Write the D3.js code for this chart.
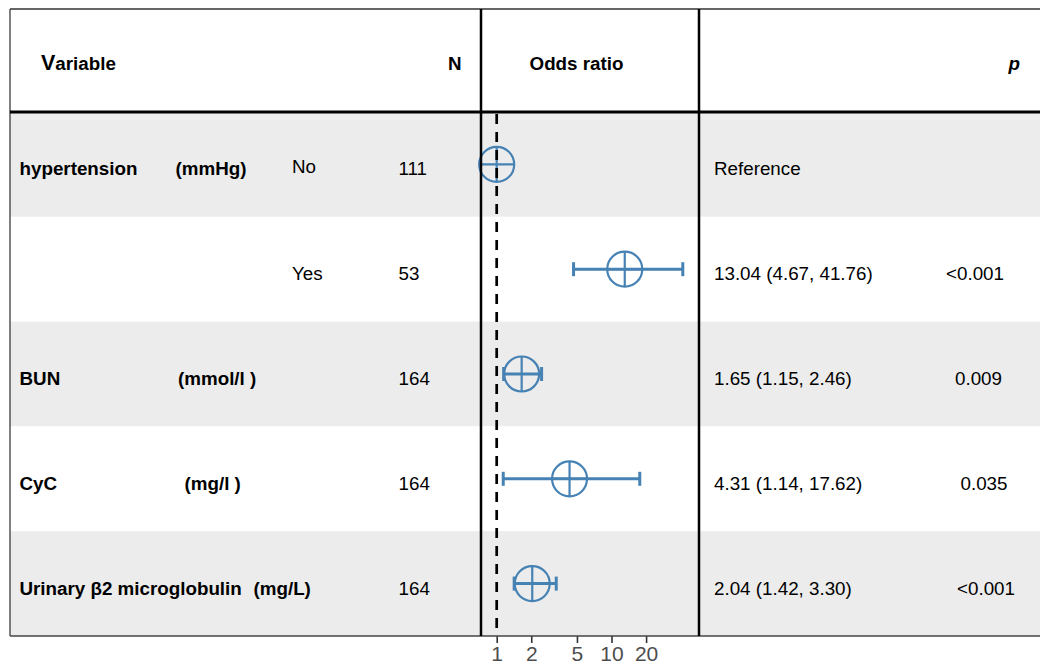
<!DOCTYPE html>
<html>
<head>
<meta charset="utf-8">
<script src="https://cdn.jsdelivr.net/npm/d3@7/dist/d3.min.js"></script>
<style>
  html, body { margin: 0; padding: 0; background: #fff; }
  svg { display: block; font-family: "Liberation Sans", Arial, Helvetica, sans-serif; }
</style>
</head>
<body>
<svg id="chart" width="1040" height="671"></svg>
<script>
// ---- data ----
const variables = ["hypertension", "", "BUN", "CyC", "Urinary \u03b22 microglobulin"];
const units = ["(mmHg)", "", "(mmol/l )", "(mg/l )", "(mg/L)"];
const levels = ["No", "Yes", "", "", ""];
const counts = ["111", "53", "164", "164", "164"];
const oddsRatio = [1, 13.04, 1.65, 4.31, 2.04];
const lowerCI = [null, 4.67, 1.15, 1.14, 1.42];
const upperCI = [null, 41.76, 2.46, 17.62, 3.30];
const ciText = ["Reference", "13.04 (4.67, 41.76)", "1.65 (1.15, 2.46)", "4.31 (1.14, 17.62)", "2.04 (1.42, 3.30)"];
const pText = ["", "<0.001", "0.009", "0.035", "<0.001"];
const tickValues = [1, 2, 5, 10, 20];
const xDomain = [0.73, 57.8];
const refValue = 1;

// ---- layout (kept apart from data) ----
const unitX = [175.5, 0, 178, 184.5, 253.5];
const pX = [0, 946, 955, 960.5, 957];
const W = 1040;
const leftX = 10, topY = 9, headBottom = 112, bottomY = 636;
const panelL = 481, panelR = 699;
const fs = 18.8;
const blue = "#4682B4";

const svg = d3.select("#chart");

const x = d3.scaleLog().domain(xDomain).range([panelL, panelR]);
const y = d3.scaleBand().domain(d3.range(variables.length)).range([headBottom, bottomY]);

// row bands
svg.append("g").selectAll("rect").data(d3.range(variables.length)).join("rect")
  .attr("x", leftX).attr("y", d => y(d))
  .attr("width", W - leftX).attr("height", y.bandwidth())
  .attr("fill", d => d % 2 === 0 ? "#ececec" : "#ffffff");

// header
const hdr = svg.append("g").attr("font-weight", "bold").attr("fill", "#000");
const vt = hdr.append("text").attr("x", 41).attr("y", 70).attr("font-size", fs);
vt.append("tspan").attr("font-size", 21.5).text("V");
vt.append("tspan").text("ariable");
hdr.append("text").attr("x", 461.5).attr("y", 70).attr("text-anchor", "end").attr("font-size", fs).text("N");
hdr.append("text").attr("x", 576.5).attr("y", 70).attr("text-anchor", "middle").attr("font-size", fs).text("Odds ratio");
hdr.append("text").attr("x", 1020).attr("y", 70).attr("text-anchor", "end").attr("font-size", fs)
  .attr("font-style", "italic").text("p");

// row text
const rowsG = svg.append("g").attr("font-size", fs).attr("fill", "#000");
const base = i => y(i) + y.bandwidth() / 2 + 11;
rowsG.selectAll("text.var").data(variables).join("text").attr("class", "var")
  .attr("x", 19.5).attr("y", (d, i) => base(i)).attr("font-weight", "bold").text(d => d);
rowsG.selectAll("text.unit").data(units).join("text").attr("class", "unit")
  .attr("x", (d, i) => unitX[i]).attr("y", (d, i) => base(i)).attr("font-weight", "bold").text(d => d);
rowsG.selectAll("text.lvl").data(levels).join("text").attr("class", "lvl")
  .attr("x", 292).attr("y", (d, i) => base(i) - (i === 0 ? 2.5 : 0)).text(d => d);
rowsG.selectAll("text.n").data(counts).join("text").attr("class", "n")
  .attr("x", 398.5).attr("y", (d, i) => base(i)).text(d => d);
rowsG.selectAll("text.ci").data(ciText).join("text").attr("class", "ci")
  .attr("x", 714).attr("y", (d, i) => base(i)).text(d => d);
rowsG.selectAll("text.p").data(pText).join("text").attr("class", "p")
  .attr("x", (d, i) => pX[i]).attr("y", (d, i) => base(i)).text(d => d);

// CI bars and points
const cy = i => y(i) + y.bandwidth() / 2;
const pts = svg.append("g").attr("stroke", blue).attr("fill", "none");
const idx = d3.range(oddsRatio.length);
const withCI = idx.filter(i => lowerCI[i] != null);
pts.selectAll("line.ci").data(withCI).join("line").attr("class", "ci")
  .attr("x1", i => x(lowerCI[i])).attr("x2", i => x(upperCI[i]))
  .attr("y1", cy).attr("y2", cy).attr("stroke-width", 3);
pts.selectAll("line.capL").data(withCI).join("line").attr("class", "capL")
  .attr("x1", i => x(lowerCI[i])).attr("x2", i => x(lowerCI[i]))
  .attr("y1", i => cy(i) - 7).attr("y2", i => cy(i) + 7).attr("stroke-width", 3);
pts.selectAll("line.capU").data(withCI).join("line").attr("class", "capU")
  .attr("x1", i => x(upperCI[i])).attr("x2", i => x(upperCI[i]))
  .attr("y1", i => cy(i) - 7).attr("y2", i => cy(i) + 7).attr("stroke-width", 3);
const R = 17.5;
pts.selectAll("circle").data(idx).join("circle")
  .attr("cx", i => x(oddsRatio[i])).attr("cy", cy).attr("r", R).attr("stroke-width", 2.2);
pts.selectAll("line.h").data(idx).join("line").attr("class", "h")
  .attr("x1", i => x(oddsRatio[i]) - R).attr("x2", i => x(oddsRatio[i]) + R)
  .attr("y1", cy).attr("y2", cy).attr("stroke-width", 2.2);
pts.selectAll("line.v").data(idx).join("line").attr("class", "v")
  .attr("x1", i => x(oddsRatio[i])).attr("x2", i => x(oddsRatio[i]))
  .attr("y1", i => cy(i) - R).attr("y2", i => cy(i) + R).attr("stroke-width", 2.2);

// reference dashed line
svg.append("line")
  .attr("x1", x(refValue)).attr("x2", x(refValue))
  .attr("y1", headBottom + 2).attr("y2", bottomY)
  .attr("stroke", "#000").attr("stroke-width", 2.7).attr("stroke-dasharray", "10,8");

// axis
const axis = svg.append("g").attr("transform", `translate(0,${bottomY})`)
  .call(d3.axisBottom(x).tickValues(tickValues).tickFormat(d3.format("d")).tickSize(7).tickPadding(3));
axis.select(".domain").remove();
axis.selectAll(".tick line").attr("stroke", "#333").attr("stroke-width", 1.6);
axis.selectAll(".tick text").attr("fill", "#4d4d4d").attr("font-size", 21)
  .attr("font-family", "\"Liberation Sans\", Arial, sans-serif");

// table lines
const lines = svg.append("g").attr("fill", "none");
lines.append("line").attr("x1", leftX).attr("x2", W).attr("y1", topY).attr("y2", topY)
  .attr("stroke", "#333").attr("stroke-width", 1.3);
lines.append("line").attr("x1", leftX).attr("x2", W).attr("y1", bottomY).attr("y2", bottomY)
  .attr("stroke", "#444").attr("stroke-width", 1.3);
lines.append("line").attr("x1", leftX).attr("x2", leftX).attr("y1", topY).attr("y2", bottomY)
  .attr("stroke", "#555").attr("stroke-width", 1.5);
lines.append("line").attr("x1", leftX).attr("x2", W).attr("y1", headBottom).attr("y2", headBottom)
  .attr("stroke", "#000").attr("stroke-width", 3);
[panelL, panelR].forEach(px => {
  lines.append("line").attr("x1", px).attr("x2", px).attr("y1", topY).attr("y2", bottomY)
    .attr("stroke", "#000").attr("stroke-width", 2.5);
});
</script>
</body>
</html>
